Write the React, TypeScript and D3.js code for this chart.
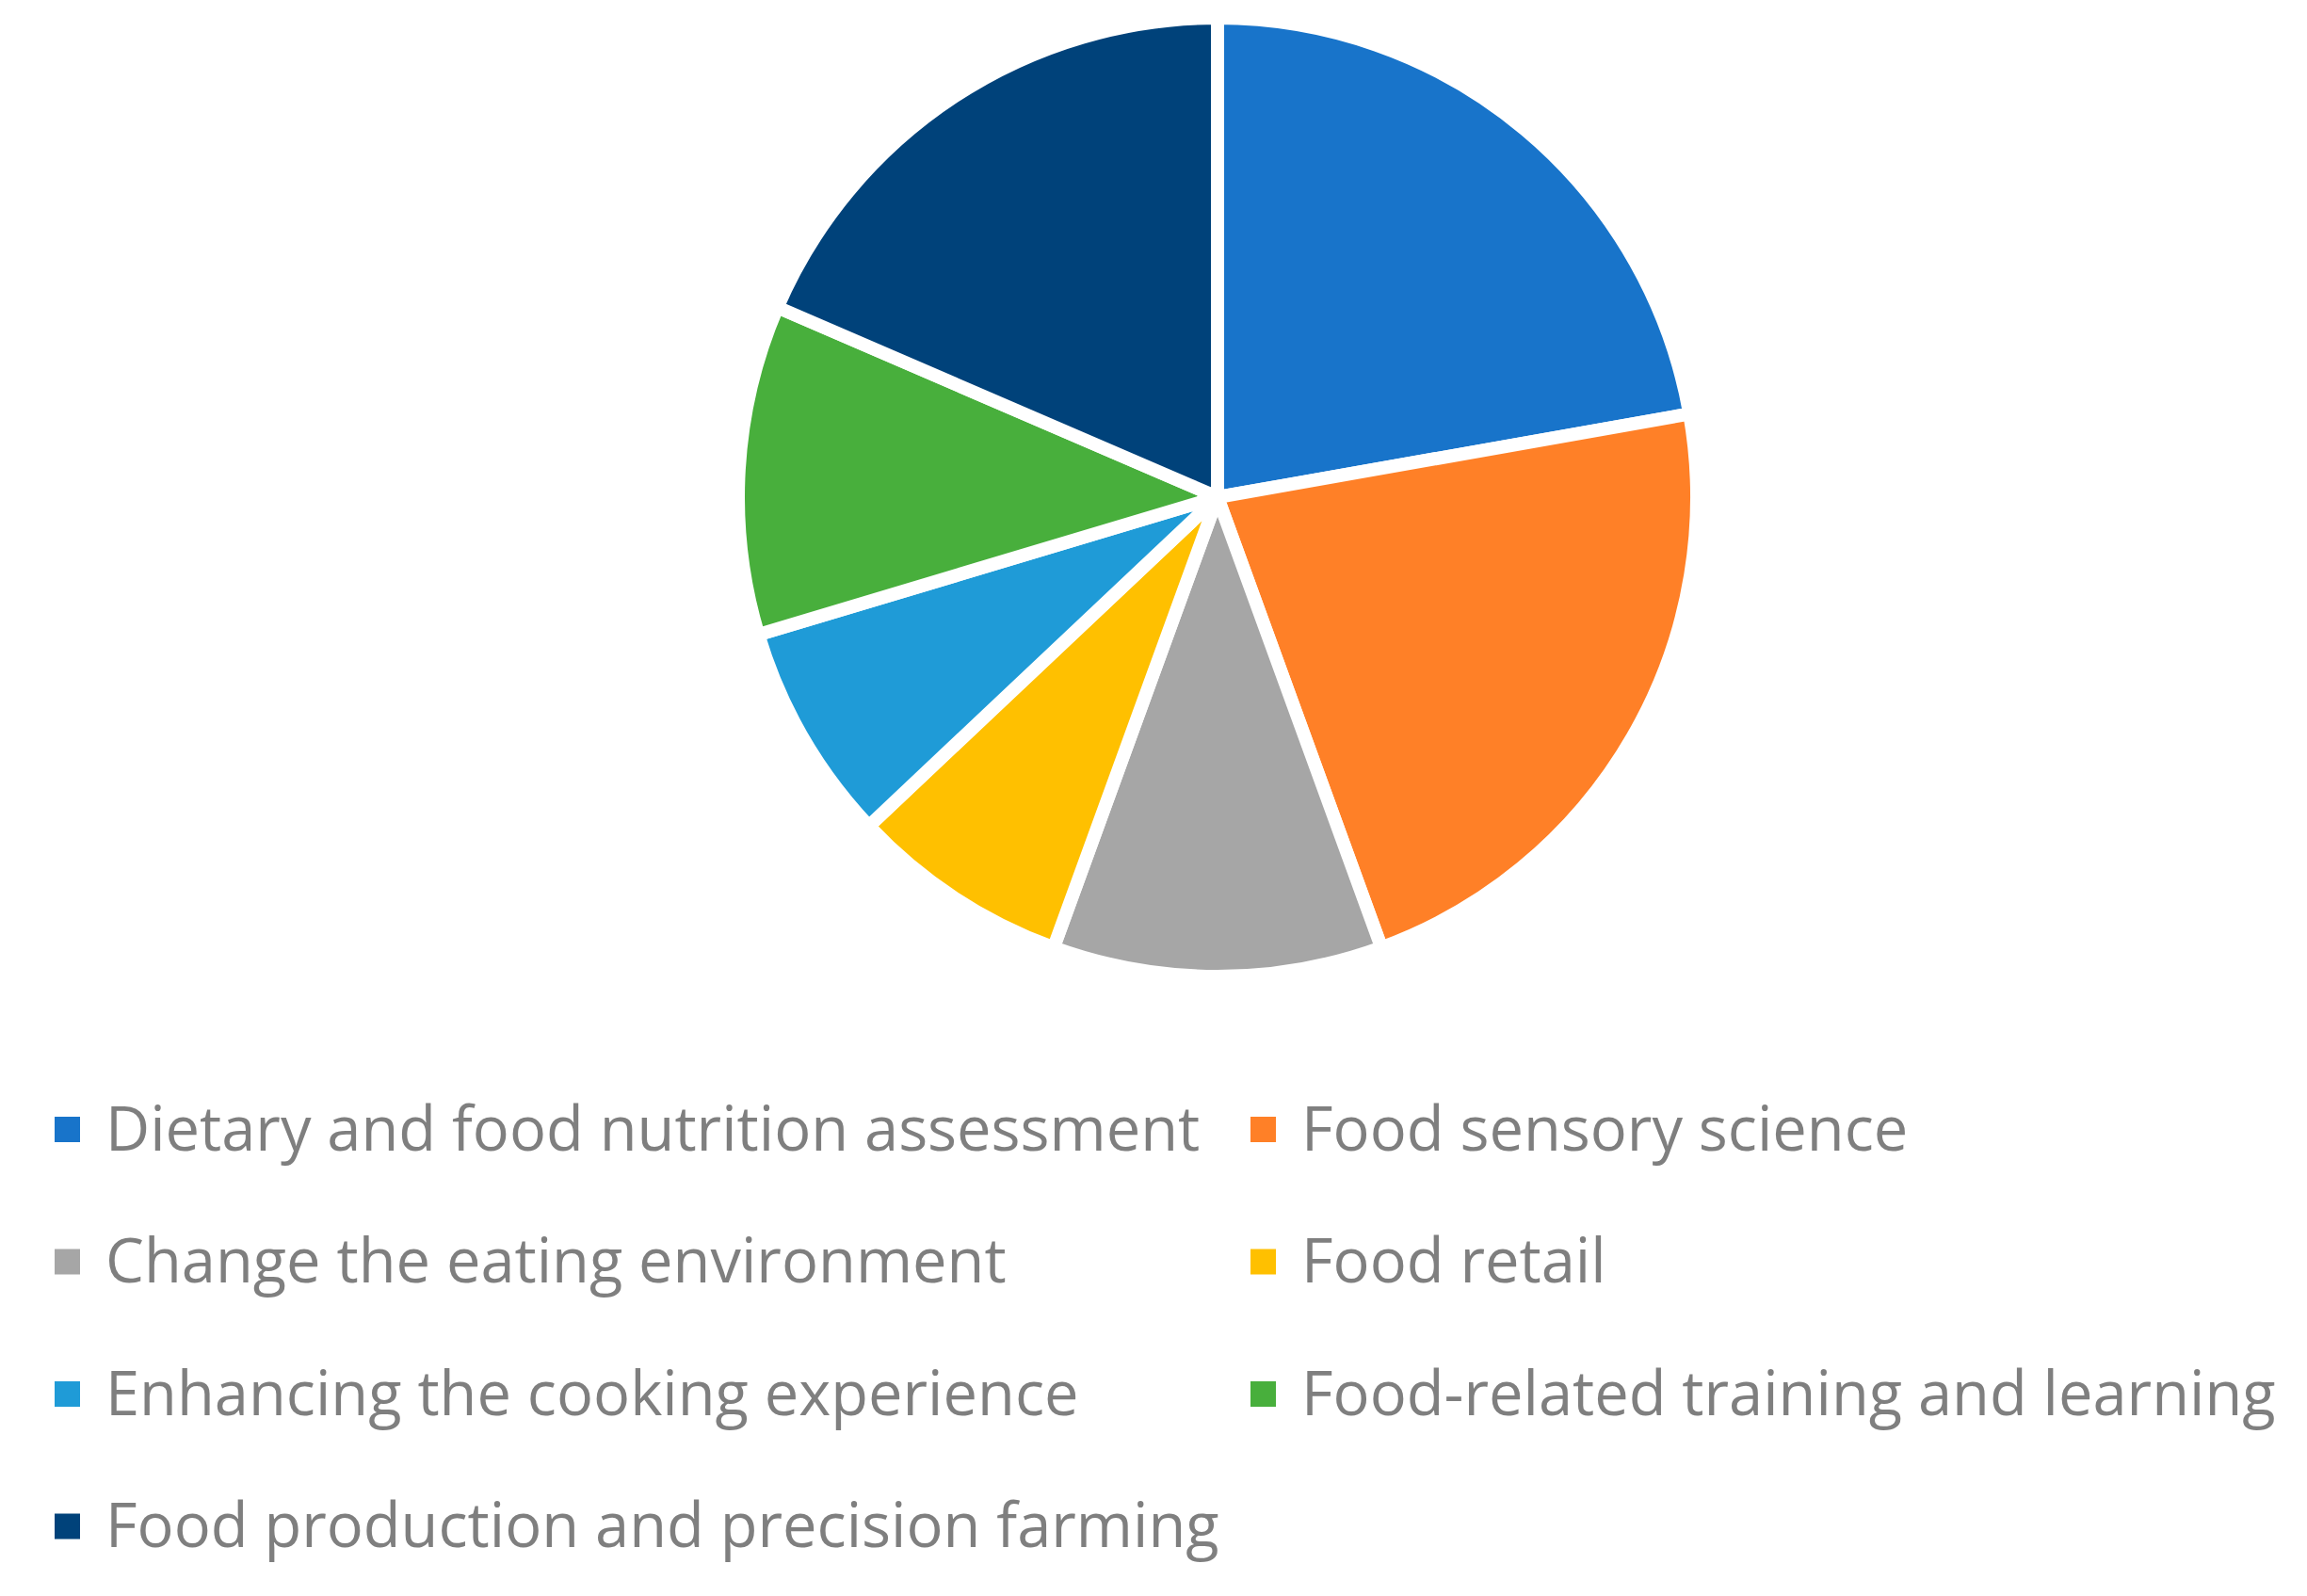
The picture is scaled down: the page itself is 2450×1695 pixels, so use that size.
import { useEffect, useRef } from "react";
import * as d3 from "d3";

const categories = [
  "Dietary and food nutrition assessment",
  "Food sensory science",
  "Change the eating environment",
  "Food retail",
  "Enhancing the cooking experience",
  "Food-related training and learning",
  "Food production and precision farming",
];
const values = [6, 6, 3, 2, 2, 3, 5];
const colors = ["#1874CA", "#FF8027", "#A6A6A6", "#FFC000", "#1F9BD7", "#48AF3C", "#00427A"];

export default function App() {
  const ref = useRef<SVGSVGElement>(null);

  useEffect(() => {
    const width = 2450;
    const height = 1695;
    const cx = 1293;
    const cy = 528;
    const radius = 509;

    const svg = d3.select(ref.current);
    svg.selectAll("*").remove();
    svg.attr("width", width).attr("height", height).attr("viewBox", [0, 0, width, height]);

    const data = categories.map((c, i) => ({ name: c, value: values[i], color: colors[i] }));

    const pie = d3.pie<any>().sort(null).value((d) => d.value);
    const arc = d3.arc<any>().innerRadius(0).outerRadius(radius);

    svg.append("g")
      .attr("transform", `translate(${cx},${cy})`)
      .selectAll("path")
      .data(pie(data))
      .join("path")
      .attr("d", arc)
      .attr("fill", (d) => d.data.color)
      .attr("stroke", "white")
      .attr("stroke-width", 14)
      .attr("stroke-linejoin", "round");

    // legend, two columns
    const colX = [58, 1328];
    const rowY = d3.range(4).map((i) => 1199.5 + i * 140.5);
    const item = svg.append("g")
      .selectAll("g")
      .data(data)
      .join("g")
      .attr("transform", (d, i) => `translate(${colX[i % 2]},${rowY[Math.floor(i / 2)]})`);

    item.append("rect")
      .attr("x", 0)
      .attr("y", -13.5)
      .attr("width", 27)
      .attr("height", 27)
      .attr("fill", (d) => d.color);

    item.append("text")
      .attr("x", 54)
      .attr("y", 22)
      .attr("fill", "#7F7F7F")
      .style("font-family", "'Open Sans', sans-serif")
      .style("font-size", "65px")
      .text((d) => d.name);
  }, []);

  return (
    <div style={{ position: "absolute", left: 0, top: 0 }}>
      <svg ref={ref} style={{ display: "block" }}></svg>
    </div>
  );
}
